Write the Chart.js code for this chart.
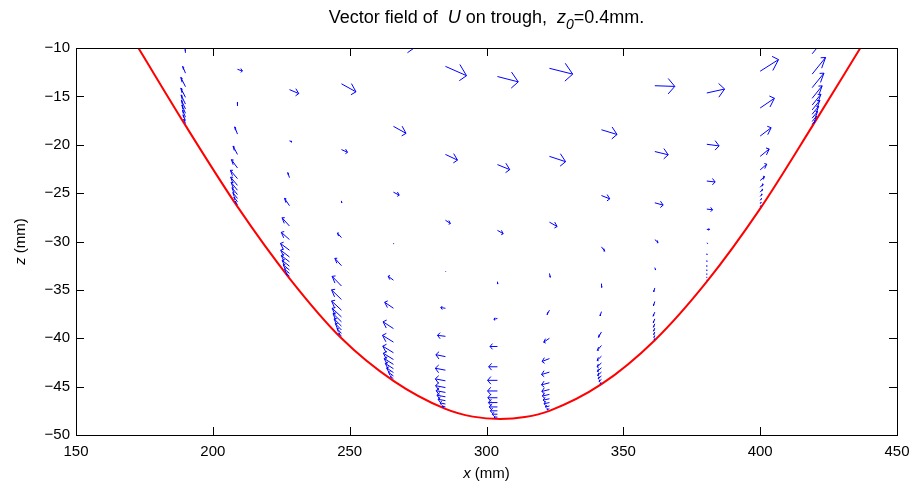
<!DOCTYPE html>
<html>
<head>
<meta charset="utf-8">
<title>Vector field of U on trough</title>
<script src="https://cdn.jsdelivr.net/npm/chart.js@4.4.1/dist/chart.umd.min.js"></script>
<style>
  html, body { margin: 0; padding: 0; background: #fff; }
</style>
</head>
<body>
<canvas id="quiverChart" width="919" height="490"></canvas>
<script>
// Trough wall (red curve)
const wallX = [172.8, 190, 209, 228, 247, 266, 285, 295, 305, 314, 323, 342, 361.5, 380.5, 400, 419, 436.6];
const wallZ = [-10.0, -18.0, -26.4, -33.8, -40.0, -44.4, -47.3, -48.1, -48.35, -48.15, -47.5, -44.75, -40.2, -34.15, -26.6, -18.1, -10.0];

// Quiver columns (x of arrow tails, mm)
const colX = [190, 209, 228, 247, 266, 285, 304, 323, 342, 361.5, 380.5, 400, 419];

// Arrow tails (z, mm) per column, bottom to top
const tailZ = [
  [-17.8, -17.5, -17.15, -16.75, -16.3, -15.8, -15.1, -14.0, -12.6, -10.5],
  [-26.2, -25.9, -25.55, -25.15, -24.7, -24.2, -23.5, -22.4, -21.0, -18.9, -16.0, -12.2],
  [-33.6, -33.3, -32.95, -32.55, -32.1, -31.6, -30.9, -29.8, -28.4, -26.3, -23.4, -19.6, -14.3],
  [-39.8, -39.5, -39.15, -38.75, -38.3, -37.8, -37.1, -36.0, -34.6, -32.5, -29.6, -25.8, -20.5, -13.7],
  [-44.2, -43.9, -43.55, -43.15, -42.7, -42.2, -41.5, -40.4, -39.0, -36.9, -34.0, -30.2, -24.9, -18.1, -9.0],
  [-47.1, -46.8, -46.45, -46.05, -45.6, -45.1, -44.4, -43.3, -41.9, -39.8, -36.9, -33.1, -27.8, -21.0, -11.9],
  [-48.15, -47.85, -47.5, -47.1, -46.65, -46.15, -45.45, -44.35, -42.95, -40.85, -37.95, -34.15, -28.85, -22.05, -12.95],
  [-47.3, -47.0, -46.65, -46.25, -45.8, -45.3, -44.6, -43.5, -42.1, -40.0, -37.1, -33.3, -28.0, -21.2, -12.1],
  [-44.55, -44.25, -43.9, -43.5, -43.05, -42.55, -41.85, -40.75, -39.35, -37.25, -34.35, -30.55, -25.25, -18.45],
  [-40.0, -39.7, -39.35, -38.95, -38.5, -38.0, -37.3, -36.2, -34.8, -32.7, -29.8, -26.0, -20.7, -13.9],
  [-33.95, -33.65, -33.3, -32.9, -32.45, -31.95, -31.25, -30.15, -28.75, -26.65, -23.75, -19.95, -14.65],
  [-26.4, -26.1, -25.75, -25.35, -24.9, -24.4, -23.7, -22.6, -21.2, -19.1, -16.2, -12.4],
  [-17.9, -17.6, -17.25, -16.85, -16.4, -15.9, -15.2, -14.1, -12.7, -10.6]
];

// Horizontal component of U per arrow (as drawn, mm)
const arrowU = [
  [-0.6, -0.9, -1.1, -1.3, -1.5, -1.6, -1.7, -1.7, -1.0, -0.1],
  [-0.8, -1.3, -1.7, -2.0, -2.3, -2.5, -2.6, -2.2, -1.6, -1.0, 0.0, 1.8],
  [-1.2, -1.8, -2.3, -2.7, -3.0, -3.2, -3.3, -3.0, -2.7, -1.8, -0.6, 0.85, 3.4],
  [-1.0, -1.6, -2.2, -2.7, -3.1, -3.4, -3.6, -3.6, -3.4, -2.4, -1.5, 0.1, 2.2, 5.3],
  [-1.1, -1.8, -2.5, -3.0, -3.4, -3.7, -3.9, -4.0, -3.8, -3.2, -1.95, 0.2, 2.1, 4.6, 7.8],
  [-1.2, -2.0, -2.7, -3.1, -3.4, -3.6, -3.7, -3.7, -3.5, -2.9, -1.7, 0.15, 1.8, 4.4, 7.7],
  [-1.2, -1.9, -2.6, -3.0, -3.3, -3.5, -3.6, -3.6, -3.2, -2.7, -1.3, 0.1, 2.1, 4.5, 7.6],
  [-0.9, -1.5, -2.0, -2.3, -2.6, -2.8, -2.9, -2.9, -2.7, -2.1, -0.85, 0.3, 2.8, 5.9, 8.5],
  [-0.5, -0.9, -1.2, -1.4, -1.5, -1.6, -1.6, -1.5, -1.1, -0.5, 0.1, 1.2, 3.05, 5.7],
  [-0.2, -0.3, -0.4, -0.45, -0.5, -0.55, -0.6, -0.5, -0.4, 0.3, 1.2, 3.05, 4.9, 7.3],
  [0, 0, 0, 0, 0, 0.05, 0.1, 0.3, 1.0, 2.1, 3.05, 4.5, 6.5],
  [0.2, 0.35, 0.5, 0.7, 0.9, 1.1, 1.6, 2.4, 3.3, 4.0, 5.2, 6.7],
  [1.1, 1.6, 2.0, 2.4, 2.8, 3.2, 3.65, 4.3, 4.9, 5.5]
];

// Vertical component of U per arrow (as drawn, mm)
const arrowV = [
  [0.45, 0.6, 0.75, 0.85, 0.9, 0.95, 0.95, 0.96, 0.7, 0.35],
  [0.35, 0.5, 0.6, 0.7, 0.8, 0.85, 0.86, 0.86, 0.86, 0.75, 0.4, -0.18],
  [0.35, 0.45, 0.55, 0.6, 0.65, 0.7, 0.7, 0.75, 0.85, 0.76, 0.52, -0.1, -0.41],
  [0.35, 0.5, 0.65, 0.75, 0.85, 0.9, 0.95, 1.0, 1.0, 0.76, 0.48, -0.2, -0.28, -0.83],
  [0.28, 0.38, 0.48, 0.55, 0.6, 0.65, 0.68, 0.7, 0.7, 0.62, 0.41, -0.05, -0.31, -0.72, -0.95],
  [0.08, 0.12, 0.14, 0.16, 0.18, 0.2, 0.2, 0.2, 0.2, 0.1, 0.07, 0.0, -0.34, -0.59, -0.96],
  [0, 0, 0, 0, 0, 0, 0, 0, 0, 0, -0.1, -0.25, -0.34, -0.52, -0.55],
  [-0.06, -0.1, -0.12, -0.15, -0.18, -0.2, -0.22, -0.25, -0.3, -0.41, -0.45, -0.4, -0.45, -0.55, -0.6],
  [-0.14, -0.22, -0.28, -0.34, -0.38, -0.42, -0.45, -0.5, -0.55, -0.45, -0.4, -0.45, -0.34, -0.49],
  [-0.14, -0.22, -0.28, -0.32, -0.36, -0.4, -0.42, -0.45, -0.4, -0.25, -0.31, -0.24, -0.34, -0.07],
  [-0.05, -0.08, -0.1, -0.12, -0.12, -0.12, -0.12, -0.05, 0, -0.07, -0.1, -0.17, 0.41],
  [0.1, 0.15, 0.2, 0.26, 0.3, 0.34, 0.41, 0.59, 0.76, 0.86, 1.0, 1.2],
  [0.39, 0.56, 0.7, 0.84, 0.98, 1.12, 1.29, 1.5, 1.72, 1.9]
];

const xTicks = [150, 200, 250, 300, 350, 400, 450];
const zTicks = [-50, -45, -40, -35, -30, -25, -20, -15, -10];

const FONT = '"Liberation Sans", Arial, Helvetica, sans-serif';
const TICK_SIZE = 15;

// draw a line of text made of plain / italic / subscript pieces, centred on cx
function drawRich(ctx, parts, cx, y, size) {
    const fontOf = p => (p.it ? 'italic ' : '') + Math.round(p.sub ? size * 0.8 : size) + 'px ' + FONT;
    let total = 0;
    parts.forEach(p => { ctx.font = fontOf(p); total += ctx.measureText(p.t).width; });
    let x = cx - total / 2;
    ctx.textAlign = 'left';
    ctx.textBaseline = 'alphabetic';
    parts.forEach(p => {
        ctx.font = fontOf(p);
        ctx.fillText(p.t, x, p.sub ? y + size * 0.32 : y);
        x += ctx.measureText(p.t).width;
    });
}

// MATLAB style quiver arrows, box, inward ticks and rich labels
const quiverPlugin = {
    id: 'quiver',
    afterDatasetsDraw(chart) {
        const { ctx, chartArea: a, scales: { x, y } } = chart;
        const alpha = 0.33, beta = 0.33;
        ctx.save();
        ctx.beginPath();
        ctx.rect(a.left, a.top, a.right - a.left, a.bottom - a.top);
        ctx.clip();
        ctx.strokeStyle = '#0000ff';
        ctx.lineWidth = 1;
        for (let c = 0; c < colX.length; c++) {
            for (let k = 0; k < tailZ[c].length; k++) {
                const x0 = colX[c], z0 = tailZ[c][k];
                const u = arrowU[c][k], v = arrowV[c][k];
                const x1 = x0 + u, z1 = z0 + v;
                const hx1 = x1 - alpha * (u + beta * v), hz1 = z1 - alpha * (v - beta * u);
                const hx2 = x1 - alpha * (u - beta * v), hz2 = z1 - alpha * (v + beta * u);
                ctx.beginPath();
                ctx.moveTo(x.getPixelForValue(x0), y.getPixelForValue(z0));
                ctx.lineTo(x.getPixelForValue(x1), y.getPixelForValue(z1));
                ctx.moveTo(x.getPixelForValue(hx1), y.getPixelForValue(hz1));
                ctx.lineTo(x.getPixelForValue(x1), y.getPixelForValue(z1));
                ctx.lineTo(x.getPixelForValue(hx2), y.getPixelForValue(hz2));
                ctx.stroke();
            }
        }
        ctx.restore();
    },
    afterDraw(chart) {
        const { ctx, chartArea: a, scales: { x, y } } = chart;
        const tl = 8;
        ctx.save();
        ctx.strokeStyle = '#000';
        ctx.lineWidth = 1;
        ctx.beginPath();
        xTicks.forEach(t => {
            const px = Math.round(x.getPixelForValue(t)) + 0.5;
            ctx.moveTo(px, a.bottom); ctx.lineTo(px, a.bottom - tl);
            ctx.moveTo(px, a.top); ctx.lineTo(px, a.top + tl);
        });
        zTicks.forEach(t => {
            const py = Math.round(y.getPixelForValue(t)) + 0.5;
            ctx.moveTo(a.left, py); ctx.lineTo(a.left + tl, py);
            ctx.moveTo(a.right, py); ctx.lineTo(a.right - tl, py);
        });
        ctx.stroke();
        ctx.strokeRect(Math.round(a.left) + 0.5, Math.round(a.top) + 0.5,
            Math.round(a.right - a.left), Math.round(a.bottom - a.top));

        ctx.fillStyle = '#000';
        const cx = (a.left + a.right) / 2;
        drawRich(ctx, [
            { t: 'Vector field of  ' }, { t: 'U', it: true }, { t: ' on trough,  ' },
            { t: 'z', it: true }, { t: '0', it: true, sub: true }, { t: '=0.4mm.' }
        ], cx, 23, 18);
        drawRich(ctx, [{ t: 'x', it: true }, { t: ' (mm)' }], cx, 478, TICK_SIZE);

        ctx.translate(25, (a.top + a.bottom) / 2);
        ctx.rotate(-Math.PI / 2);
        drawRich(ctx, [{ t: 'z', it: true }, { t: ' (mm)' }], 0, 0, TICK_SIZE);
        ctx.restore();
    }
};

const ctx = document.getElementById('quiverChart');
new Chart(ctx, {
    type: 'scatter',
    data: {
        datasets: [{
            label: 'trough',
            data: wallX.map((v, i) => ({ x: v, y: wallZ[i] })),
            showLine: true,
            borderColor: '#ff0000',
            borderWidth: 2,
            pointRadius: 0,
            cubicInterpolationMode: 'monotone'
        }]
    },
    options: {
        responsive: false,
        animation: false,
        devicePixelRatio: 1,
        layout: { padding: { left: 0, right: 22, top: 48, bottom: 0 } },
        plugins: { legend: { display: false }, tooltip: { enabled: false }, title: { display: false } },
        scales: {
            x: {
                type: 'linear', min: 150, max: 450,
                afterBuildTicks: s => { s.ticks = xTicks.map(v => ({ value: v })); },
                afterFit: s => { s.height = 55; },
                grid: { display: false, drawTicks: false },
                border: { display: false },
                ticks: {
                    color: '#000', padding: 8, maxRotation: 0, autoSkip: false,
                    font: { family: FONT, size: TICK_SIZE },
                    callback: v => String(v)
                }
            },
            y: {
                type: 'linear', min: -50, max: -10,
                afterBuildTicks: s => { s.ticks = zTicks.map(v => ({ value: v })); },
                afterFit: s => { s.width = 76; },
                grid: { display: false, drawTicks: false },
                border: { display: false },
                ticks: {
                    color: '#000', padding: 6, autoSkip: false,
                    font: { family: FONT, size: TICK_SIZE },
                    callback: v => String(v).replace('-', '\u2212')
                }
            }
        }
    },
    plugins: [quiverPlugin]
});
</script>
</body>
</html>
